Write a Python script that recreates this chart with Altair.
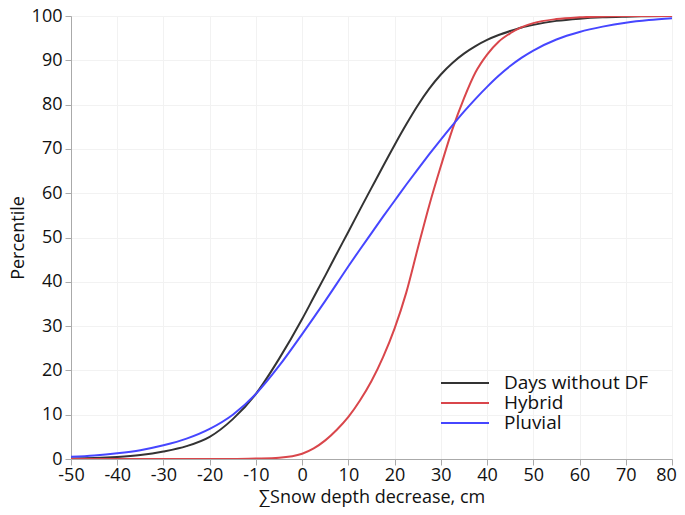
import altair as alt
import pandas as pd

x_vals = [-50, -45, -40, -35, -30, -25, -20, -15, -10, -5, 0, 2.5, 5, 7.5, 10,
          12.5, 15, 17.5, 20, 22.5, 25, 27.5, 30, 32.5, 35, 37.5, 40, 42.5,
          45, 47.5, 50, 55, 60, 65, 70, 75, 80]

days_without_df = [0.1, 0.2, 0.45, 0.9, 1.7, 2.9, 5.0, 9.0, 14.7, 22.6, 31.6,
                   36.5, 41.4, 46.4, 51.3, 56.3, 61.2, 66.1, 70.9, 75.5, 79.8,
                   83.6, 86.8, 89.4, 91.5, 93.2, 94.6, 95.7, 96.6, 97.4, 98.0,
                   98.9, 99.4, 99.7, 99.85, 99.95, 100.0]
hybrid = [0.0, 0.0, 0.0, 0.0, 0.0, 0.0, 0.0, 0.0, 0.1, 0.3, 1.2,
          2.4, 4.2, 6.6, 9.5, 13.2, 17.6, 23.0, 29.5, 37.5, 47.5,
          57.3, 66.1, 74.4, 81.4, 87.3, 91.3, 94.2, 96.1, 97.5, 98.4,
          99.3, 99.7, 99.9, 100.0, 100.0, 100.0]
pluvial = [0.5, 0.8, 1.3, 2.0, 3.1, 4.6, 6.8, 10.0, 14.7, 21.0, 28.2,
           31.9, 35.7, 39.6, 43.5, 47.3, 51.0, 54.7, 58.3, 61.9, 65.4,
           68.8, 72.1, 75.3, 78.4, 81.3, 84.0, 86.5, 88.7, 90.6, 92.2,
           94.7, 96.4, 97.6, 98.5, 99.1, 99.5]

series_names = ["Days without DF", "Hybrid", "Pluvial"]
series_colors = ["#333333", "#d9464b", "#4646ff"]

x_ticks = list(range(-50, 81, 10))
y_ticks = list(range(0, 101, 10))

rows = []
for name, vals in zip(series_names, [days_without_df, hybrid, pluvial]):
    for xv, yv in zip(x_vals, vals):
        rows.append({"x": xv, "y": yv, "series": name})
df = pd.DataFrame(rows)

font = "Open Sans"
txt = "#111111"

chart = alt.Chart(df).mark_line(
    interpolate="monotone", strokeWidth=2, clip=True
).encode(
    x=alt.X("x:Q", scale=alt.Scale(domain=[-50, 80], nice=False),
            axis=alt.Axis(values=x_ticks,
                          title="∑Snow depth decrease, cm",
                          labelExpr="'' + datum.value",
                          labelFlush=False, labelOverlap=False,
                          labelOffset={"condition": {"test": "datum.value == 80",
                                                     "value": -6},
                                       "value": 0},
                          labelFontSize=18, titleFontSize=18,
                          labelFont=font, titleFont=font,
                          labelColor=txt, titleColor=txt,
                          titleFontWeight="normal",
                          domainColor="#aaaaaa", tickColor="#aaaaaa",
                          tickSize=6, gridColor="#f2f2f2",
                          labelPadding=1, titlePadding=4)),
    y=alt.Y("y:Q", scale=alt.Scale(domain=[0, 100], nice=False),
            axis=alt.Axis(values=y_ticks,
                          title="Percentile",
                          labelFlush=False, labelOverlap=False,
                          labelFontSize=18, titleFontSize=18,
                          labelFont=font, titleFont=font,
                          labelColor=txt, titleColor=txt,
                          titleFontWeight="normal",
                          domainColor="#aaaaaa", tickColor="#aaaaaa",
                          tickSize=6, gridColor="#f2f2f2",
                          labelPadding=3, titlePadding=4)),
    color=alt.Color("series:N",
                    scale=alt.Scale(domain=series_names, range=series_colors),
                    legend=alt.Legend(title=None, orient="none",
                                      legendX=384, legendY=357,
                                      symbolType="M-2.667,0H2.667",
                                      symbolSize=324,
                                      symbolStrokeWidth=2,
                                      labelFontSize=19, labelFont=font,
                                      labelColor=txt, rowPadding=0,
                                      labelOffset=29)),
).properties(
    width=601, height=443,
    autosize=alt.AutoSizeParams(type="none"),
    padding={"left": 63, "top": 8, "right": 5, "bottom": 48},
).configure_view(
    stroke="#aaaaaa", strokeWidth=1
).configure_axis(
    gridOpacity=1
)

chart.save("out.html", embed_options={"renderer": "svg", "actions": False})
